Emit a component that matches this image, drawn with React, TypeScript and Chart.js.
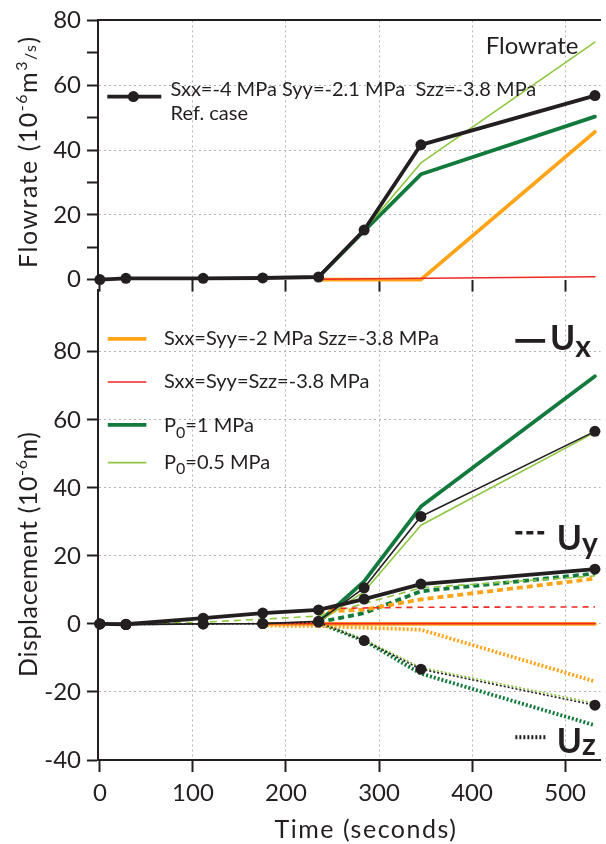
import React, { useEffect, useRef } from 'react';
import { Chart, registerables } from 'chart.js';

Chart.register(...registerables);

const FONT = 'Lato, "Open Sans", sans-serif';
const INK = '#231f20';
const DKGREEN = '#127a3c';
const LTGREEN = '#8dc63f';
const ORANGE = '#ffa418';
const RED = '#ee2a24';
const GRID = '#b3b3b3';
const CLEAR = 'rgba(0,0,0,0)';

Chart.defaults.font.family = FONT;
Chart.defaults.color = INK;

// ---------- time axis ----------
const timeMin = -2;
const timeMax = 538;
const timeStep = 100;
const refTimes = [0, 28, 111, 175, 235, 284, 345, 532];

// ---------- flowrate (1e-6 m3/s) ----------
const flowMin = 0;
const flowMax = 80;
const flowStep = 10;
const flowRef = [0, 0.4, 0.4, 0.5, 0.8, 15.3, 41.6, 56.8];
const flowP1Times = [235, 284, 345, 532];
const flowP1 = [0.8, 15.0, 32.5, 50.3];
const flowP05Times = [235, 284, 345, 532];
const flowP05 = [0.8, 15.3, 36.0, 73.3];
const flowSxxTimes = [235, 345, 532];
const flowSxx = [0, 0, 45.6];
const flowIsoTimes = [235, 532];
const flowIso = [0.1, 0.9];

// ---------- displacement (1e-6 m) ----------
const dispMin = -40;
const dispMax = 98.3;
const dispStep = 20;
const uxRef = [0, -0.2, 0, 0.1, 0.8, 10.6, 31.6, 56.6];
const uyRef = [0, -0.1, 1.7, 3.2, 4.1, 7.3, 11.7, 16.1];
const uzRef = [0, -0.2, 0, 0.1, 0.5, -4.9, -13.3, -23.9];
const greenTimes = [235, 284, 345, 532];
const uxP1 = [0.5, 12.5, 34.5, 72.8];
const uxP05 = [0.5, 9.5, 29.0, 56.3];
const uyP1 = [0.5, 3.2, 9.6, 14.8];
const uyP05Times = [28, 111, 175, 235, 284, 345, 532];
const uyP05 = [0, 0.5, 1.4, 2.3, 6.0, 10.6, 14.1];
const uzP1 = [0.3, -4.9, -14.6, -29.8];
const uzP05 = [0.3, -4.6, -12.8, -23.3];
const uxSxxTimes = [175, 532];
const uxSxx = [0, 0];
const uySxxTimes = [235, 284, 345, 532];
const uySxx = [3.5, 4.2, 7.2, 13.3];
const uzSxxTimes = [175, 235, 284, 345, 532];
const uzSxx = [-0.5, -0.6, -1.1, -1.7, -16.9];
const uxIsoTimes = [175, 532];
const uxIso = [0.1, 0.1];
const uyIsoTimes = [235, 284, 345, 532];
const uyIso = [4.5, 4.7, 4.9, 5.0];

// ---------- labels ----------
const legendRef = 'Sxx=-4 MPa Syy=-2.1 MPa  Szz=-3.8 MPa';
const legendRef2 = 'Ref. case';
const legendSxx = 'Sxx=Syy=-2 MPa Szz=-3.8 MPa';
const legendIso = 'Sxx=Syy=Szz=-3.8 MPa';
const timeTitle = 'Time (seconds)';

type St = { color: string; width: number; dash?: number[]; marker?: boolean };
const THICK = 3.8;
const THIN = 1.6;
const stRefThick: St = { color: INK, width: THICK, marker: true };
const stRefThin: St = { color: INK, width: THIN, marker: true };
const stRefDot: St = { color: INK, width: THIN, dash: [2, 2], marker: true };
const stP1: St = { color: DKGREEN, width: THICK };
const stP05: St = { color: LTGREEN, width: THIN };
const stSxx: St = { color: ORANGE, width: THICK };
const stIso: St = { color: RED, width: THIN };
const dashThick = [6, 4];
const dashThin = [7, 5];
const dotThick = [2, 2];

function line(label: string, xs: number[], ys: number[], st: St, dash?: number[]) {
  const d = dash ?? st.dash;
  return {
    label,
    data: xs.map((x, i) => ({ x, y: ys[i] })),
    borderColor: st.color,
    backgroundColor: st.color,
    borderWidth: st.width,
    borderDash: d ?? [],
    borderCapStyle: d ? 'butt' : 'round',
    borderJoinStyle: 'round',
    pointRadius: st.marker ? 5.5 : 0,
    pointHoverRadius: 0,
    pointBackgroundColor: INK,
    pointBorderWidth: 0,
    tension: 0,
    fill: false,
    clip: false,
  };
}

type Seg = { t: string; k?: 'sup' | 'sub' | 'small' };
type RichOpts = {
  weight?: string;
  align?: 'left' | 'center';
  rotate?: boolean;
  color?: string;
  subScale?: number;
  subDrop?: number;
  supRise?: number;
  spacing?: number;
};

function drawRich(ctx: CanvasRenderingContext2D, segs: Seg[], x: number, y: number, size: number, o: RichOpts = {}) {
  const weight = o.weight ?? 'normal';
  const sc = o.subScale ?? 0.65;
  const fontOf = (k?: string) => `${weight} ${k ? Math.round(size * sc) : size}px ${FONT}`;
  ctx.save();
  (ctx as any).letterSpacing = `${o.spacing ?? 0}px`;
  ctx.fillStyle = o.color ?? INK;
  ctx.textBaseline = 'alphabetic';
  ctx.textAlign = 'left';
  let total = 0;
  const widths = segs.map((s) => {
    ctx.font = fontOf(s.k);
    const w = ctx.measureText(s.t).width;
    total += w;
    return w;
  });
  ctx.translate(x, y);
  if (o.rotate) ctx.rotate(-Math.PI / 2);
  let cx = o.align === 'center' ? -total / 2 : 0;
  const base = size * 0.36;
  segs.forEach((s, i) => {
    ctx.font = fontOf(s.k);
    let dy = base;
    if (s.k === 'sup') dy -= size * (o.supRise ?? 0.42);
    if (s.k === 'small') dy -= size * 0.05;
    if (s.k === 'sub') dy += size * (o.subDrop ?? 0.2);
    ctx.fillText(s.t, cx, dy);
    cx += widths[i];
  });
  ctx.restore();
}

function sample(ctx: CanvasRenderingContext2D, x1: number, x2: number, y: number, color: string, width: number, dash: number[] = []) {
  ctx.save();
  ctx.strokeStyle = color;
  ctx.lineWidth = width;
  ctx.setLineDash(dash);
  ctx.lineCap = 'butt';
  ctx.beginPath();
  ctx.moveTo(x1, y);
  ctx.lineTo(x2, y);
  ctx.stroke();
  ctx.restore();
}

const TITLE_SIZE = 25;

const flowDecor = {
  id: 'flowDecor',
  afterDraw(chart: any) {
    const ctx: CanvasRenderingContext2D = chart.ctx;
    const xs = chart.scales.x;
    const ys = chart.scales.y;
    drawRich(
      ctx,
      [{ t: 'Flowrate (10' }, { t: '-6', k: 'sup' }, { t: 'm' }, { t: '3', k: 'sup' }, { t: '/s', k: 'small' }, { t: ')' }],
      ys.left + 28,
      ys.getPixelForValue(39.5),
      TITLE_SIZE,
      { rotate: true, align: 'center', spacing: 1.5 }
    );
    const ly = ys.getPixelForValue(56.5);
    sample(ctx, xs.getPixelForValue(8), xs.getPixelForValue(66), ly, INK, THICK);
    ctx.save();
    ctx.fillStyle = INK;
    ctx.beginPath();
    ctx.arc(xs.getPixelForValue(36), ly, 5.5, 0, Math.PI * 2);
    ctx.fill();
    ctx.restore();
    drawRich(ctx, [{ t: legendRef }], xs.getPixelForValue(76), ys.getPixelForValue(59), 20);
    drawRich(ctx, [{ t: legendRef2 }], xs.getPixelForValue(76), ys.getPixelForValue(51.4), 20);
    drawRich(ctx, [{ t: 'Flowrate' }], xs.getPixelForValue(414.6), ys.getPixelForValue(72.2), 24);
  },
};

const dispDecor = {
  id: 'dispDecor',
  afterDraw(chart: any) {
    const ctx: CanvasRenderingContext2D = chart.ctx;
    const xs = chart.scales.x;
    const ys = chart.scales.y;
    drawRich(
      ctx,
      [{ t: 'Displacement (10' }, { t: '-6', k: 'sup' }, { t: 'm)' }],
      ys.left + 28,
      ys.getPixelForValue(20.5),
      TITLE_SIZE,
      { rotate: true, align: 'center', spacing: 0.6 }
    );
    drawRich(ctx, [{ t: timeTitle }], xs.getPixelForValue(286), xs.bottom - 15, TITLE_SIZE, {
      align: 'center', spacing: 1.5,
    });
    const rows: { st: St; v: number; tv: number; segs: Seg[] }[] = [
      { st: stSxx, v: 83.8, tv: 84.0, segs: [{ t: legendSxx }] },
      { st: stIso, v: 71.1, tv: 71.4, segs: [{ t: legendIso }] },
      { st: stP1, v: 58.5, tv: 58.5, segs: [{ t: 'P' }, { t: '0', k: 'sub' }, { t: '=1 MPa' }] },
      { st: stP05, v: 47.4, tv: 47.7, segs: [{ t: 'P' }, { t: '0', k: 'sub' }, { t: '=0.5 MPa' }] },
    ];
    rows.forEach((r) => {
      sample(ctx, xs.getPixelForValue(8.5), xs.getPixelForValue(50), ys.getPixelForValue(r.v), r.st.color, r.st.width);
      drawRich(ctx, r.segs, xs.getPixelForValue(69), ys.getPixelForValue(r.tv), 20, { subScale: 0.8, subDrop: 0.28 });
    });
    // component keys
    sample(ctx, xs.getPixelForValue(446.5), xs.getPixelForValue(478.5), ys.getPixelForValue(83.2), INK, THICK);
    drawRich(ctx, [{ t: 'U' }, { t: 'x', k: 'sub' }], xs.getPixelForValue(483.7), ys.getPixelForValue(84.1), 34, {
      weight: 'bold', subScale: 0.88, subDrop: 0.2,
    });
    sample(ctx, xs.getPixelForValue(446.5), xs.getPixelForValue(477.5), ys.getPixelForValue(26.8), INK, 3.4, [7, 4]);
    drawRich(ctx, [{ t: 'U' }, { t: 'y', k: 'sub' }], xs.getPixelForValue(491), ys.getPixelForValue(25.4), 34, {
      weight: 'bold', subScale: 0.88, subDrop: 0.12,
    });
    sample(ctx, xs.getPixelForValue(446.5), xs.getPixelForValue(480.5), ys.getPixelForValue(-33.3), INK, 4, dotThick);
    drawRich(ctx, [{ t: 'U' }, { t: 'z', k: 'sub' }], xs.getPixelForValue(491), ys.getPixelForValue(-34.2), 34, {
      weight: 'bold', subScale: 0.88, subDrop: 0.06,
    });
  },
};

const baseOpts = {
  animation: false,
  responsive: false,
  maintainAspectRatio: false,
  events: [],
  layout: { padding: 0 },
  plugins: { legend: { display: false }, tooltip: { enabled: false }, title: { display: false } },
};

function topConfig(): any {
  return {
    type: 'line',
    data: {
      datasets: [
        line('Ref. case', refTimes, flowRef, stRefThick),
        line('Sxx=Syy=Szz=-3.8 MPa', flowIsoTimes, flowIso, stIso),
        line('Sxx=Syy=-2 MPa Szz=-3.8 MPa', flowSxxTimes, flowSxx, stSxx),
        line('P0=0.5 MPa', flowP05Times, flowP05, stP05),
        line('P0=1 MPa', flowP1Times, flowP1, stP1),
      ],
    },
    options: {
      ...baseOpts,
      scales: {
        x: {
          type: 'linear',
          position: 'bottom',
          min: timeMin,
          max: timeMax,
          ticks: { display: false, stepSize: timeStep, includeBounds: false },
          grid: {
            color: (c: any) => (c.tick && c.tick.value > 0 ? GRID : CLEAR),
            lineWidth: 1,
            tickColor: INK,
            tickLength: 12,
            tickWidth: 2,
          },
          border: { display: false, dash: [2, 3] },
          afterFit: (s: any) => {
            s.height = 16;
          },
        },
        xTop: {
          type: 'linear',
          position: 'top',
          min: timeMin,
          max: timeMax,
          ticks: { display: false },
          grid: { drawOnChartArea: false, drawTicks: false },
          border: { display: true, color: INK, width: 2 },
          afterFit: (s: any) => {
            s.height = 17;
          },
        },
        y: {
          type: 'linear',
          position: 'left',
          min: flowMin,
          max: flowMax,
          ticks: {
            stepSize: flowStep,
            includeBounds: false,
            autoSkip: false,
            callback: (v: number) => (v % 20 === 0 ? String(v) : ''),
            font: { family: FONT, size: 24 },
            color: INK,
            padding: 6,
          },
          grid: {
            color: (c: any) => (c.tick && c.tick.value % 20 === 0 && c.tick.value > flowMin && c.tick.value < flowMax ? GRID : CLEAR),
            lineWidth: 1,
            tickColor: INK,
            tickLength: 11,
            tickWidth: 2,
          },
          border: { display: true, color: INK, width: 2, dash: [2, 3] },
          afterFit: (s: any) => {
            s.width = 98;
          },
        },
      },
    },
    plugins: [flowDecor],
  };
}

function bottomConfig(): any {
  return {
    type: 'line',
    data: {
      datasets: [
        line('Ux ref', refTimes, uxRef, stRefThin),
        line('Uy ref', refTimes, uyRef, stRefThick),
        line('Uz ref', refTimes, uzRef, stRefDot),
        line('Ux iso', uxIsoTimes, uxIso, stIso),
        line('Uy iso', uyIsoTimes, uyIso, stIso, [6, 5]),
        line('Ux Sxx', uxSxxTimes, uxSxx, stSxx),
        line('Uy Sxx', uySxxTimes, uySxx, stSxx, dashThick),
        line('Uz Sxx', uzSxxTimes, uzSxx, stSxx, dotThick),
        line('Ux P0.5', greenTimes, uxP05, stP05),
        line('Uy P0.5', uyP05Times, uyP05, stP05, dashThin),
        line('Uz P0.5', greenTimes, uzP05, stP05, dotThick),
        line('Ux P1', greenTimes, uxP1, stP1),
        line('Uy P1', greenTimes, uyP1, stP1, dashThick),
        line('Uz P1', greenTimes, uzP1, stP1, dotThick),
      ],
    },
    options: {
      ...baseOpts,
      scales: {
        x: {
          type: 'linear',
          position: 'bottom',
          min: timeMin,
          max: timeMax,
          ticks: { stepSize: timeStep, includeBounds: false, autoSkip: false, font: { family: FONT, size: 24 }, color: INK, padding: 7, maxRotation: 0 },
          grid: {
            color: (c: any) => (c.tick && c.tick.value > 0 ? GRID : CLEAR),
            lineWidth: 1,
            tickColor: INK,
            tickLength: 12,
            tickWidth: 2,
          },
          border: { display: true, color: INK, width: 2, dash: [2, 3] },
          afterFit: (s: any) => {
            s.height = 84;
          },
        },
        y: {
          type: 'linear',
          position: 'left',
          min: dispMin,
          max: dispMax,
          ticks: { stepSize: dispStep, includeBounds: false, autoSkip: false, font: { family: FONT, size: 24 }, color: INK, padding: 6 },
          grid: {
            color: (c: any) => (c.tick && c.tick.value > dispMin ? GRID : CLEAR),
            lineWidth: 1,
            tickColor: INK,
            tickLength: 11,
            tickWidth: 2,
          },
          border: { display: true, color: INK, width: 2, dash: [2, 3] },
          afterFit: (s: any) => {
            s.width = 98;
            s.paddingTop = 0;
            s.paddingBottom = 0;
          },
        },
      },
    },
    plugins: [dispDecor],
  };
}

export default function App() {
  const topRef = useRef<HTMLCanvasElement>(null);
  const botRef = useRef<HTMLCanvasElement>(null);
  useEffect(() => {
    const c2 = new Chart(botRef.current as HTMLCanvasElement, bottomConfig());
    const c1 = new Chart(topRef.current as HTMLCanvasElement, topConfig());
    return () => {
      c1.destroy();
      c2.destroy();
    };
  }, []);
  return (
    <div style={{ position: 'absolute', left: 0, top: 0, width: 606, height: 844, background: '#fff' }}>
      <canvas ref={botRef} width={606} height={560} style={{ position: 'absolute', left: 0, top: 284, width: 606, height: 560 }} />
      <canvas ref={topRef} width={606} height={300} style={{ position: 'absolute', left: 0, top: 0, width: 606, height: 300 }} />
    </div>
  );
}
